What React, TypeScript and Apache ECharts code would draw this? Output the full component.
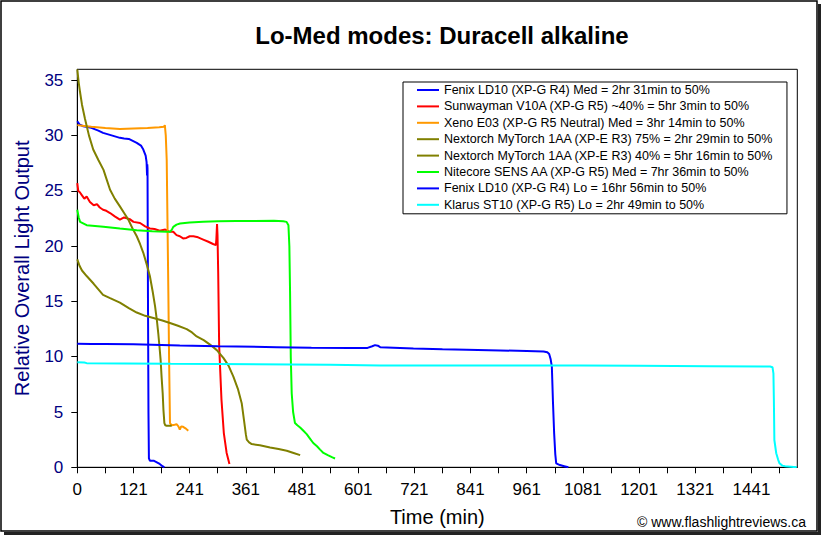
import React, { useEffect, useRef } from "react";
import * as echarts from "echarts";

const chartTitle = "Lo-Med modes: Duracell alkaline";
const xAxisName = "Time (min)";
const yAxisName = "Relative Overall Light Output";
const credit = "© www.flashlightreviews.ca";

const xTickLabels = ["0", "121", "241", "361", "481", "601", "721", "841", "961", "1081", "1201", "1321", "1441"];

const seriesNames = [
  "Fenix LD10 (XP-G R4) Med = 2hr 31min to 50%",
  "Sunwayman V10A (XP-G R5) ~40% = 5hr 3min to 50%",
  "Xeno E03 (XP-G R5 Neutral) Med = 3hr 14min to 50%",
  "Nextorch MyTorch 1AA (XP-E R3) 75% = 2hr 29min to 50%",
  "Nextorch MyTorch 1AA (XP-E R3) 40% = 5hr 16min to 50%",
  "Nitecore SENS AA (XP-G R5) Med = 7hr 36min to 50%",
  "Fenix LD10 (XP-G R4) Lo = 16hr 56min to 50%",
  "Klarus ST10 (XP-G R5) Lo = 2hr 49min to 50%",
];

const seriesColors = ["#0000FF", "#FF0000", "#FF9900", "#808000", "#808000", "#00FF00", "#0000FF", "#00FFFF"];

const fenixMed: number[][] = [
  [0, 31.3], [5, 31.0], [13, 30.85], [30, 30.7], [45, 30.45], [55, 30.25], [75, 30.0], [91, 29.8],
  [100, 29.75], [110, 29.7], [127, 29.35], [136, 29.1], [141, 28.74], [146, 28.2], [148, 27.6],
  [149, 26.4], [149.5, 27.4], [150, 27.0], [151, 15], [152, 5], [153, 0.8], [155, 0.6], [163, 0.6],
  [170, 0.45], [176, 0.3], [182, 0.1], [186, 0],
];

const sunwayman: number[][] = [
  [0, 25.7], [2, 25.0], [5, 24.9], [10, 24.6], [15, 24.3], [20, 24.5], [27, 24.0], [35, 23.7],
  [42, 23.8], [48, 23.5], [55, 23.3], [62, 23.2], [70, 23.0], [80, 22.7], [91, 22.4], [100, 22.6],
  [112, 22.45], [120, 22.2], [134, 22.1], [145, 21.8], [155, 21.6], [165, 21.55], [176, 21.4],
  [188, 21.5], [198, 21.3], [205, 21.3], [212, 21.0], [219, 20.9], [226, 20.7], [233, 20.75],
  [240, 20.9], [248, 20.9], [258, 20.8], [269, 20.6], [280, 20.4], [290, 20.2], [296, 20.1],
  [297, 20.6], [298.5, 22.0], [299.5, 21.0], [301, 17.5], [303, 11], [308, 6.1], [313, 3.1],
  [319, 1.3], [325, 0.3],
];

const xeno: number[][] = [
  [0, 30.95], [10, 30.9], [30, 30.8], [60, 30.7], [91, 30.6], [120, 30.65], [150, 30.7],
  [175, 30.75], [185, 30.8], [187, 30.95], [189, 30.0], [191, 27.8], [193, 21], [194.5, 15.8],
  [196, 10], [198, 4.0], [201.7, 3.8], [208, 3.85], [212, 3.9], [216, 3.7], [219, 3.4],
  [222, 3.7], [226, 3.66], [232, 3.5], [237, 3.3],
];

const nextorch75: number[][] = [
  [0, 36.0], [3, 34.8], [6, 33.9], [10, 32.8], [16.5, 31.5], [25, 30.0], [34, 28.75], [45, 27.8],
  [56, 26.9], [63, 26.0], [70, 25.1], [80, 24.3], [91, 23.6], [100, 23.0], [109, 22.4],
  [118, 21.6], [127, 20.9], [134, 20.2], [141, 19.4], [148, 18.4], [155, 17.3], [161, 15.9],
  [166, 14.6], [170, 13.3], [173, 12.1], [176, 10.7], [178, 9.7], [180, 8.2], [182.4, 6.7],
  [184, 5.2], [186, 4.0], [188, 3.8], [191, 3.75], [196, 3.75], [201.7, 3.75],
];

const nextorch40: number[][] = [
  [0, 18.8], [5, 18.2], [10, 17.8], [20, 17.3], [35, 16.6], [55, 15.6], [70, 15.3], [91, 14.9],
  [110, 14.4], [127, 14.0], [145, 13.7], [162.6, 13.5], [180, 13.3], [198, 13.05], [215, 12.8],
  [233.7, 12.5], [245, 12.2], [255, 11.84], [270, 11.5], [283.5, 11.1], [298, 10.6], [312, 9.9],
  [323, 9.2], [333.4, 8.2], [343, 7.1], [351.2, 5.8], [356, 4.3], [360, 3.0], [362, 2.5],
  [367, 2.25], [372.6, 2.1], [390, 2.0], [411.8, 1.8], [430, 1.65], [447.4, 1.5], [462, 1.3],
  [476, 1.1],
];

const nitecore: number[][] = [
  [0, 23.3], [3, 22.6], [6, 22.2], [20, 21.9], [55.7, 21.75], [91, 21.6], [127, 21.45],
  [160, 21.35], [191, 21.3], [198, 21.3], [202, 21.5], [205, 21.75], [212, 21.95], [219.4, 22.05],
  [240, 22.15], [269, 22.2], [300, 22.25], [340, 22.28], [380, 22.27], [420, 22.3], [440, 22.25],
  [447, 22.2], [451, 21.9], [453, 20], [454.5, 15.8], [456, 10], [458, 6.7], [461, 5], [465, 4.0],
  [470, 3.8], [476, 3.6], [483, 3.3], [490, 3.0], [497, 2.6], [504, 2.2], [512, 1.9],
  [518.6, 1.6], [525.8, 1.3], [535, 1.1], [545, 0.9], [550.6, 0.8],
];

const fenixLo: number[][] = [
  [0, 11.17], [30, 11.15], [60, 11.15], [120, 11.12], [219, 11.01], [300, 10.95], [426, 10.87],
  [500, 10.82], [582, 10.78], [620, 10.8], [630, 10.95], [636, 11.05], [642, 11.0], [647, 10.87],
  [718, 10.75], [780, 10.68], [832, 10.63], [903, 10.57], [960, 10.52], [996, 10.48],
  [1004, 10.4], [1008, 10.25], [1011, 9.8], [1013.7, 9.1], [1016, 6], [1018.6, 3.08],
  [1021, 1.2], [1023, 0.36], [1031, 0.2], [1040, 0.1], [1049, 0],
];

const klarus: number[][] = [
  [0, 9.51], [15, 9.48], [20, 9.42], [100, 9.4], [200, 9.36], [300, 9.35], [540, 9.27],
  [647, 9.2], [800, 9.2], [1074, 9.2], [1200, 9.18], [1350, 9.15], [1480, 9.11], [1485, 9.05],
  [1487, 8.5], [1488, 6], [1489, 2.47], [1493, 1.27], [1497, 0.7], [1500, 0.36], [1506, 0.15],
  [1512, 0.1], [1537, 0],
];

const seriesData = [fenixMed, sunwayman, xeno, nextorch75, nextorch40, nitecore, fenixLo, klarus];

const FONT = "'Liberation Sans', Arial, sans-serif";

export default function App() {
  const ref = useRef<HTMLDivElement>(null);

  useEffect(() => {
    if (!ref.current) return;
    const chart = echarts.init(ref.current, undefined, { renderer: "svg" });
    chart.setOption({
      animation: false,
      backgroundColor: "#ffffff",
      textStyle: { fontFamily: FONT },
      title: {
        text: chartTitle,
        left: 437,
        top: 18,
        textAlign: "center",
        textStyle: { fontFamily: FONT, fontSize: 24, fontWeight: "bold", color: "#000" },
      },
      grid: {
        left: 77.3,
        right: 24.7,
        top: 69.3,
        bottom: 67.7,
        show: true,
        borderColor: "#000",
        borderWidth: 1,
        backgroundColor: "#fff",
        containLabel: false,
      },
      legend: {
        orient: "vertical",
        left: 403,
        top: 82,
        padding: [1, 14, 2, 14],
        icon: "rect",
        itemWidth: 22,
        itemHeight: 2,
        itemGap: 2.4,
        backgroundColor: "#fff",
        borderColor: "#000",
        borderWidth: 1,
        data: seriesNames,
        textStyle: { fontFamily: FONT, fontSize: 12.5, color: "#000", lineHeight: 14, height: 14 },
      },
      xAxis: {
        type: "value",
        min: 0,
        max: 1538,
        interval: 60,
        name: xAxisName,
        nameLocation: "middle",
        nameGap: 40,
        nameTextStyle: { fontFamily: FONT, fontSize: 20, color: "#000" },
        axisLine: { show: true, lineStyle: { color: "#000", width: 1 } },
        axisTick: { show: true, length: 6, lineStyle: { color: "#000" } },
        splitLine: { show: false },
        axisLabel: {
          margin: 14,
          fontFamily: FONT,
          fontSize: 17,
          color: "#000",
          showMaxLabel: false,
          formatter: (v: number) => (v % 120 === 0 ? xTickLabels[v / 120] ?? "" : ""),
        },
      },
      yAxis: {
        type: "value",
        min: 0,
        max: 36,
        interval: 5,
        name: yAxisName,
        nameLocation: "middle",
        nameGap: 45,
        nameRotate: 90,
        nameTextStyle: { fontFamily: FONT, fontSize: 20, color: "#000080" },
        axisLine: { show: true, lineStyle: { color: "#000", width: 1 } },
        axisTick: { show: true, length: 6, lineStyle: { color: "#000" } },
        splitLine: { show: false },
        axisLabel: {
          margin: 14,
          fontFamily: FONT,
          fontSize: 17,
          color: "#000080",
          showMaxLabel: false,
          formatter: (v: number) => (v % 5 === 0 ? String(v) : ""),
        },
      },
      series: seriesData.map((d, i) => ({
        name: seriesNames[i],
        type: "line",
        data: d,
        symbol: "none",
        showSymbol: false,
        smooth: false,
        color: seriesColors[i],
        lineStyle: { color: seriesColors[i], width: 2 },
      })),
      graphic: [
        {
          type: "rect",
          shape: { x: 1, y: 1, width: 816, height: 530 },
          style: { fill: "none", stroke: "#000", lineWidth: 1.5 },
          silent: true,
        },
        {
          type: "line",
          shape: { x1: 819.5, y1: 4, x2: 819.5, y2: 533.5 },
          style: { stroke: "#222", lineWidth: 3 },
          silent: true,
        },
        {
          type: "line",
          shape: { x1: 4, y1: 533.5, x2: 821, y2: 533.5 },
          style: { stroke: "#222", lineWidth: 3 },
          silent: true,
        },
        {
          type: "text",
          style: {
            text: credit,
            x: 806,
            y: 522,
            textAlign: "right",
            textVerticalAlign: "middle",
            font: `14px ${FONT}`,
            fill: "#000",
          },
          silent: true,
        },
      ],
    });
    return () => chart.dispose();
  }, []);

  return (
    <div
      ref={ref}
      style={{ position: "fixed", left: 0, top: 0, width: 822, height: 535, background: "#fff" }}
    />
  );
}
